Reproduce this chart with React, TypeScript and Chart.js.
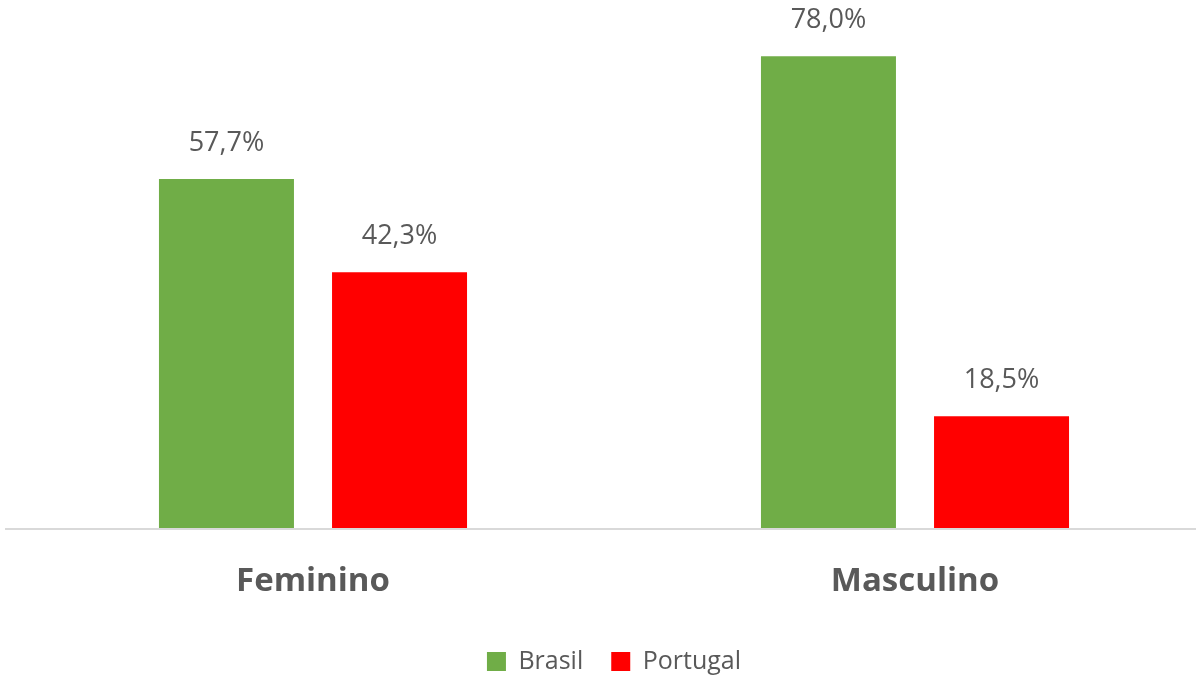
import React, { useEffect, useRef } from "react";
import { Chart, registerables } from "chart.js";

Chart.register(...registerables);

const categories = ["Feminino", "Masculino"];
const brasilValues = [57.7, 78.0];
const portugalValues = [42.3, 18.5];
const seriesNames = ["Brasil", "Portugal"];

const FONT = "'Open Sans', 'Noto Sans', 'DejaVu Sans', sans-serif";
const TEXT = "#595959";

const fmt = (v: number) => v.toFixed(1).replace(".", ",") + "%";

const labelPlugin = {
  id: "barLabels",
  beforeDatasetsDraw(chart: any) {
    const ctx = chart.ctx;
    const a = chart.chartArea;
    ctx.save();
    ctx.strokeStyle = "#D9D9D9";
    ctx.lineWidth = 2;
    ctx.beginPath();
    ctx.moveTo(5, a.bottom + 1);
    ctx.lineTo(a.right, a.bottom + 1);
    ctx.stroke();
    ctx.restore();
  },
  afterDatasetsDraw(chart: any) {
    const ctx = chart.ctx;
    ctx.save();
    ctx.font = `27px ${FONT}`;
    ctx.fillStyle = TEXT;
    ctx.textAlign = "center";
    ctx.textBaseline = "middle";
    chart.data.datasets.forEach((ds: any, i: number) => {
      const meta = chart.getDatasetMeta(i);
      meta.data.forEach((bar: any, j: number) => {
        ctx.fillText(fmt(ds.data[j]), bar.x, bar.y - 36);
      });
    });
    ctx.restore();
  },
};

export default function App() {
  const ref = useRef<HTMLCanvasElement>(null);
  useEffect(() => {
    if (!ref.current) return;
    const chart = new Chart(ref.current, {
      type: "bar",
      data: {
        labels: categories,
        datasets: [
          {
            label: seriesNames[0],
            data: brasilValues,
            backgroundColor: "#70AD47",
            categoryPercentage: 0.575,
            barPercentage: 0.78,
          },
          {
            label: seriesNames[1],
            data: portugalValues,
            backgroundColor: "#FF0000",
            categoryPercentage: 0.575,
            barPercentage: 0.78,
          },
        ],
      },
      options: {
        responsive: false,
        animation: false,
        layout: { padding: { left: 12, right: 12, top: 14, bottom: -7 } },
        plugins: {
          legend: {
            position: "bottom",
            labels: {
              boxWidth: 19,
              boxHeight: 19,
              padding: 28,
              color: TEXT,
              font: { family: FONT, size: 25 },
            },
          },
          tooltip: { enabled: false },
        },
        scales: {
          x: {
            grid: { display: false, drawTicks: false },
            border: { display: false },
            ticks: {
              color: TEXT,
              padding: 34,
              font: { family: FONT, size: 33, weight: "bold" },
            },
            afterFit(scale: any) {
              scale.height = 93;
            },
          },
          y: {
            display: false,
            min: 0,
            max: 85,
          },
        },
      },
      plugins: [labelPlugin],
    });
    return () => chart.destroy();
  }, []);
  return (
    <div
      style={{
        position: "fixed",
        left: 0,
        top: 0,
        width: 1196,
        height: 677,
        overflow: "hidden",
        background: "#fff",
      }}
    >
      <canvas ref={ref} width={1228} height={677} style={{ display: "block" }} />
    </div>
  );
}
